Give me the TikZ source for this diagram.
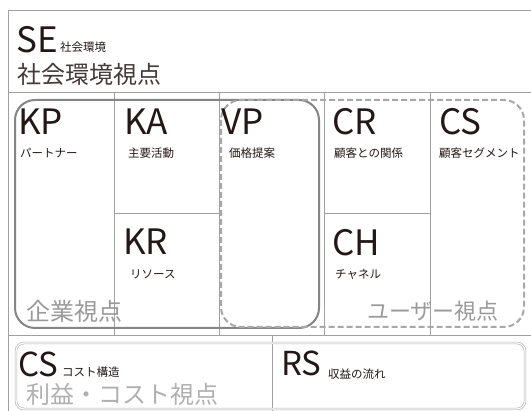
\documentclass[tikz,border=0pt]{standalone}
\usepackage{fontspec}
\setmainfont{Noto Sans CJK JP}
\definecolor{ink}{HTML}{231815}
\definecolor{gridc}{HTML}{A0A0A0}
\definecolor{solidc}{HTML}{858585}
\definecolor{dashc}{HTML}{A8A8A8}
\definecolor{viewc}{HTML}{9A9A9A}
\definecolor{lightc}{HTML}{B0B0B0}
\tikzset{
  big/.style={inner sep=0pt, anchor=base west, text=ink, font=\fontsize{35}{35}\selectfont},
  bigb/.style={inner sep=0pt, anchor=base west, text=ink, font=\fontsize{33}{33}\selectfont},
  small/.style={inner sep=0pt, anchor=base west, text=ink, font=\fontsize{11.5}{11.5}\selectfont},
  view/.style={inner sep=0pt, anchor=base west, text=viewc},
  gridline/.style={draw=gridc, line width=0.8pt},
}
\begin{document}
\begin{tikzpicture}[x=1pt,y=-1pt]
\useasboundingbox[fill=white] (0,0) rectangle (531,411);
% grid
\draw[gridline] (531,10) -- (8,10) -- (8,411);
\draw[gridline] (8,92) -- (531,92);
\draw[gridline] (8,335) -- (531,335);
\foreach \xx in {114,219,324,430} \draw[gridline] (\xx,92) -- (\xx,335);
\draw[gridline] (114,213) -- (219,213);
\draw[gridline] (324,213) -- (430,213);
\draw[gridline] (272,335) -- (272,411);
% perspective frames
\draw[solidc, line width=2pt, rounded corners=20pt] (15,100) rectangle (319,328);
\draw[dashc, line width=2pt, dash pattern=on 6pt off 3pt, rounded corners=20pt] (221,100) rectangle (524,327);
\draw[lightc, double=white, double distance=1.2pt, line width=0.6pt, rounded corners=8pt] (16,343) rectangle (525,409);
% SE
\node[big] (se) at (16,53) {SE};
\node[small] (sesub) at (60,52) {社会環境};
\node[inner sep=0pt, anchor=base west, text=ink!85, font=\fontsize{24}{24}\selectfont] (sev) at (17,84) {社会環境視点};
% top row
\node[big] (kp) at (18,135) {KP};
\node[small] (kpl) at (20,158) {パートナー};
\node[big] (ka) at (124,135) {KA};
\node[small] (kal) at (128,158) {主要活動};
\node[big] (vp) at (221,135) {VP};
\node[small] (vpl) at (229,158) {価格提案};
\node[big] (cr) at (332,135) {CR};
\node[small] (crl) at (334,158) {顧客との関係};
\node[big] (cs) at (439,135) {CS};
\node[small] (csl) at (439,158) {顧客セグメント};
% second row
\node[big] (kr) at (123,255) {KR};
\node[small] (krl) at (130,279) {リソース};
\node[big] (ch) at (332,256) {CH};
\node[small] (chl) at (335,279) {チャネル};
% views
\node[view, font=\fontsize{24}{24}\selectfont] (kv) at (26,321) {企業視点};
\node[view, font=\fontsize{22}{22}\selectfont] (uv) at (367,320) {ユーザー視点};
% bottom
\node[bigb] (cost) at (18,377) {CS};
\node[small] (costl) at (62,377) {コスト構造};
\node[inner sep=0pt, anchor=base west, text=lightc, font=\fontsize{24}{24}\selectfont] (cv) at (26,404) {利益・コスト視点};
\node[bigb] (rs) at (281,376) {RS};
\node[small] (rsl) at (328,379) {収益の流れ};
\end{tikzpicture}
\end{document}
